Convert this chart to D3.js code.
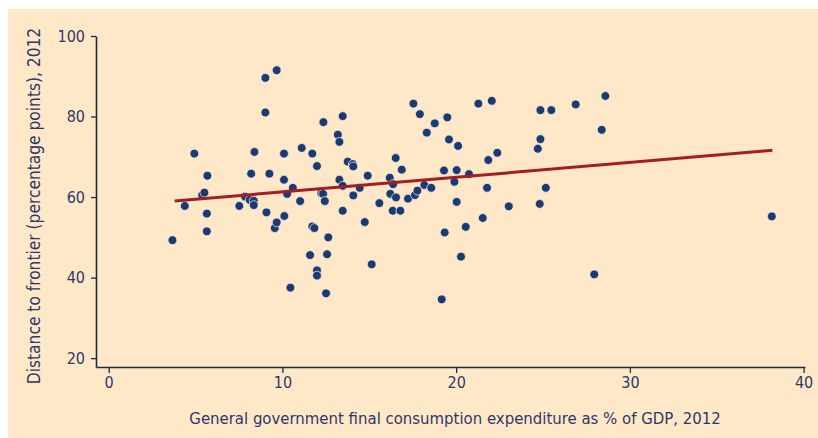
<!DOCTYPE html>
<html>
<head>
<meta charset="utf-8">
<script src="https://cdn.jsdelivr.net/npm/d3@7"></script>
<style>
  html, body { margin: 0; padding: 0; background: #ffffff; }
  svg { display: block; }
  text { font-family: "Liberation Sans Narrow", "DejaVu Sans Condensed", "Open Sans", sans-serif; fill: #2b3a68; }
</style>
</head>
<body>
<svg id="chart" width="818" height="438"></svg>
<script>
// Government consumption expenditure (% of GDP, 2012)
const spendX = [
  3.67, 4.38, 4.93, 5.38, 5.51, 5.68, 5.65, 5.65, 7.52, 7.85,
  8.12, 8.35, 8.35, 8.20, 8.39, 9.02, 9.67, 9.02, 9.08, 9.25,
  9.56, 9.67, 10.09, 10.09, 10.11, 10.27, 10.46, 10.60, 11.02, 11.11,
  11.59, 11.72, 11.72, 11.84, 11.99, 11.99, 11.99, 12.24, 12.34, 12.36,
  12.44, 12.51, 12.57, 12.64, 13.19, 13.28, 13.28, 13.47, 13.47, 13.47,
  13.76, 14.05, 14.08, 14.08, 14.45, 14.74, 14.91, 15.14, 15.58, 16.18,
  16.21, 16.35, 16.37, 16.52, 16.54, 16.79, 16.87, 17.23, 17.54, 17.63,
  17.77, 17.91, 18.17, 18.31, 18.57, 18.77, 19.17, 19.30, 19.34, 19.49,
  19.59, 19.90, 20.03, 20.03, 20.11, 20.28, 20.55, 20.74, 21.28, 21.53,
  21.78, 21.85, 22.05, 22.37, 23.03, 24.70, 24.81, 24.85, 24.85, 25.16,
  25.48, 26.88, 27.95, 28.38, 28.59, 38.17
];
// Distance to frontier (percentage points, 2012)
const distanceY = [
  49.3, 57.8, 70.8, 60.5, 61.1, 65.3, 55.9, 51.5, 57.8, 60.1,
  59.3, 59.1, 58.0, 65.8, 71.2, 89.6, 91.5, 81.0, 56.2, 65.8,
  52.3, 53.7, 70.8, 64.3, 55.3, 60.8, 37.5, 62.3, 59.0, 72.2,
  45.6, 70.8, 52.7, 52.3, 67.7, 41.8, 40.5, 60.9, 60.8, 78.6,
  59.0, 36.1, 45.8, 50.0, 75.5, 73.7, 64.3, 80.1, 62.8, 56.6,
  68.8, 68.2, 67.6, 60.4, 62.3, 53.8, 65.3, 43.3, 58.5, 64.8,
  60.8, 56.6, 63.2, 69.7, 59.9, 56.6, 66.8, 59.6, 83.2, 60.5,
  61.6, 80.6, 63.0, 76.0, 62.3, 78.3, 34.6, 66.6, 51.2, 79.8,
  74.3, 63.8, 66.7, 58.8, 72.7, 45.2, 52.6, 65.7, 83.2, 54.8,
  62.3, 69.2, 83.9, 71.0, 57.7, 72.0, 58.3, 81.6, 74.4, 62.3,
  81.6, 83.0, 40.8, 76.7, 85.1, 55.2
];
// Fitted trend line end points
const trendX = [3.8, 38.2];
const trendY = [59.0, 71.6];

const xTicks = [0, 10, 20, 30, 40];
const yTicks = [20, 40, 60, 80, 100];
const xTitle = "General government final consumption expenditure as % of GDP, 2012";
const yTitle = "Distance to frontier (percentage points), 2012";

const svg = d3.select("#chart");

svg.append("rect")
  .attr("x", 8).attr("y", 9).attr("width", 810).attr("height", 429)
  .attr("fill", "#fee8c8");

const x = d3.scaleLinear().domain([-0.73, 40.08]).range([96, 805]);
const y = d3.scaleLinear().domain([17.8, 100]).range([367, 36]);

const axisColor = "#1f2a44";

const gx = svg.append("g").attr("transform", "translate(0,367)")
  .call(d3.axisBottom(x).tickValues(xTicks).tickSize(6).tickSizeOuter(0).tickPadding(4).tickFormat(d3.format("d")));
const gy = svg.append("g").attr("transform", "translate(96,0)")
  .call(d3.axisLeft(y).tickValues(yTicks).tickSize(5).tickSizeOuter(0).tickPadding(6).tickFormat(d3.format("d")));

[gx, gy].forEach(g => {
  g.select(".domain").attr("stroke", axisColor).attr("stroke-width", 1.6);
  g.selectAll(".tick line").attr("stroke", axisColor).attr("stroke-width", 1.3);
  g.selectAll(".tick text").attr("fill", "#2b3a68").style("font-size", "16px")
    .style("font-family", '"Liberation Sans Narrow", "DejaVu Sans Condensed", "Open Sans", sans-serif');
});

// points
const pts = spendX.map((v, i) => ({ x: v, y: distanceY[i] }));
svg.append("g").selectAll("circle").data(pts).join("circle")
  .attr("cx", d => x(d.x)).attr("cy", d => y(d.y)).attr("r", 4.4)
  .attr("fill", "#1b3a70").attr("stroke", "#efe6e6").attr("stroke-width", 0.8);

// trend line
const trend = trendX.map((v, i) => [v, trendY[i]]);
svg.append("path")
  .attr("d", d3.line().x(d => x(d[0])).y(d => y(d[1]))(trend))
  .attr("fill", "none").attr("stroke", "#a51d22").attr("stroke-width", 3);

// titles
svg.append("text")
  .attr("x", 455).attr("y", 424).attr("text-anchor", "middle")
  .style("font-size", "16.6px").text(xTitle);

svg.append("text")
  .attr("transform", "translate(40,206) rotate(-90)")
  .attr("text-anchor", "middle")
  .style("font-size", "17.2px").text(yTitle);
</script>
</body>
</html>
